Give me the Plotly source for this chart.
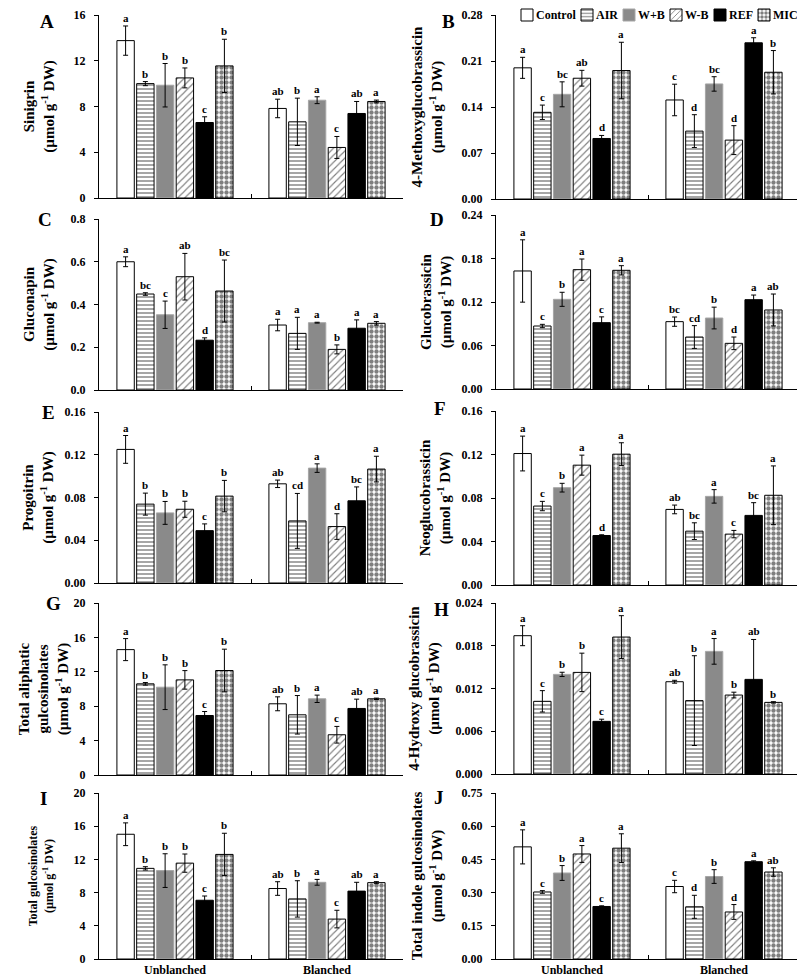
import plotly.graph_objects as go

W, H = 805, 977
FONT = "Liberation Serif"

groups = ["Unblanched", "Blanched"]
treatments = ["Control", "AIR", "W+B", "W-B", "REF", "MIC"]

# ---- A: Sinigrin
a_unb = [13.76, 10.0, 9.86, 10.5, 6.6, 11.55]
a_unb_err = [1.28, 0.18, 1.9, 0.87, 0.5, 2.33]
a_bla = [7.83, 6.66, 8.55, 4.42, 7.39, 8.44]
a_bla_err = [0.81, 2.07, 0.3, 0.96, 1.05, 0.12]
a_unb_let = ["a", "b", "b", "b", "c", "b"]
a_bla_let = ["ab", "b", "a", "c", "ab", "a"]

# ---- B: 4-Methoxyglucobrassicin
b_unb = [0.1996, 0.1319, 0.1593, 0.1838, 0.0921, 0.1955]
b_unb_err = [0.016, 0.011, 0.019, 0.012, 0.0046, 0.043]
b_bla = [0.1507, 0.1033, 0.1751, 0.0896, 0.2377, 0.1929]
b_bla_err = [0.024, 0.025, 0.011, 0.022, 0.0077, 0.033]
b_unb_let = ["a", "c", "bc", "ab", "d", "a"]
b_bla_let = ["c", "d", "bc", "d", "a", "b"]

# ---- C: Gluconapin
c_unb = [0.600, 0.449, 0.352, 0.530, 0.233, 0.463]
c_unb_err = [0.023, 0.006, 0.064, 0.109, 0.011, 0.145]
c_bla = [0.304, 0.265, 0.315, 0.190, 0.289, 0.312]
c_bla_err = [0.027, 0.075, 0.002, 0.021, 0.039, 0.008]
c_unb_let = ["a", "bc", "c", "ab", "d", "bc"]
c_bla_let = ["a", "a", "a", "b", "a", "a"]

# ---- D: Glucobrassicin
d_unb = [0.1628, 0.0869, 0.1237, 0.1646, 0.0915, 0.1637]
d_unb_err = [0.043, 0.0023, 0.0097, 0.0147, 0.008, 0.0064]
d_bla = [0.0929, 0.0717, 0.0979, 0.0630, 0.1232, 0.1090]
d_bla_err = [0.0064, 0.0157, 0.015, 0.0087, 0.0064, 0.022]
d_unb_let = ["a", "c", "b", "a", "c", "a"]
d_bla_let = ["bc", "cd", "b", "d", "a", "ab"]

# ---- E: Progoitrin
e_unb = [0.125, 0.0738, 0.0656, 0.069, 0.049, 0.0813]
e_unb_err = [0.013, 0.0103, 0.0107, 0.0075, 0.0063, 0.0147]
e_bla = [0.0928, 0.0581, 0.1075, 0.0528, 0.0769, 0.1066]
e_bla_err = [0.0035, 0.0257, 0.004, 0.012, 0.013, 0.012]
e_unb_let = ["a", "b", "b", "b", "c", "b"]
e_bla_let = ["ab", "cd", "a", "d", "bc", "a"]

# ---- F: Neoglucobrassicin
f_unb = [0.1209, 0.0726, 0.0895, 0.1102, 0.0455, 0.1203]
f_unb_err = [0.016, 0.0043, 0.004, 0.0092, 0.0007, 0.0105]
f_bla = [0.0695, 0.0495, 0.0815, 0.0468, 0.064, 0.0825]
f_bla_err = [0.004, 0.0077, 0.0062, 0.0034, 0.0117, 0.027]
f_unb_let = ["a", "c", "b", "a", "d", "a"]
f_bla_let = ["ab", "bc", "a", "c", "bc", "a"]

# ---- G: Total aliphatic gulcosinolates
g_unb = [14.58, 10.6, 10.21, 11.06, 6.92, 12.15]
g_unb_err = [1.28, 0.15, 2.6, 1.08, 0.46, 2.48]
g_bla = [8.28, 7.0, 8.86, 4.68, 7.74, 8.86]
g_bla_err = [0.81, 2.24, 0.43, 0.97, 1.08, 0.08]
g_unb_let = ["a", "b", "b", "b", "c", "b"]
g_bla_let = ["ab", "b", "a", "c", "ab", "a"]

# ---- H: 4-Hydroxy glucobrassicin
h_unb = [0.01941, 0.0102, 0.01398, 0.01426, 0.00739, 0.01922]
h_unb_err = [0.0014, 0.0015, 0.0003, 0.0027, 0.0003, 0.003]
h_bla = [0.01295, 0.0103, 0.01721, 0.01108, 0.01328, 0.01005]
h_bla_err = [0.0002, 0.0063, 0.0018, 0.0004, 0.0056, 0.0001]
h_unb_let = ["a", "c", "b", "b", "c", "a"]
h_bla_let = ["ab", "b", "a", "b", "ab", "b"]

# ---- I: Total gulcosinolates
i_unb = [15.03, 10.92, 10.65, 11.55, 7.08, 12.6]
i_unb_err = [1.37, 0.2, 2.03, 1.1, 0.51, 2.55]
i_bla = [8.49, 7.24, 9.24, 4.81, 8.18, 9.2]
i_bla_err = [0.82, 2.19, 0.35, 1.06, 1.06, 0.12]
i_unb_let = ["a", "b", "b", "b", "c", "b"]
i_bla_let = ["ab", "b", "a", "c", "ab", "a"]

# ---- J: Total indole gulcosinolates
j_unb = [0.5066, 0.3028, 0.3886, 0.4745, 0.2373, 0.5007]
j_unb_err = [0.077, 0.006, 0.0335, 0.038, 0.003, 0.065]
j_bla = [0.3275, 0.2358, 0.3726, 0.2125, 0.4396, 0.393]
j_bla_err = [0.028, 0.052, 0.031, 0.0335, 0.004, 0.019]
j_unb_let = ["a", "c", "b", "a", "c", "a"]
j_bla_let = ["c", "d", "b", "d", "a", "ab"]

UNIT = "(µmol g<sup>-1</sup> DW)"
panels = [
    dict(lab="A", title="Sinigrin<br>" + UNIT, unb=a_unb, ue=a_unb_err, bla=a_bla, be=a_bla_err,
         ul=a_unb_let, bl=a_bla_let, ymax=16, dtick=4, fmt="d", col=0, top=7, bot=190,
         lx=39, ly=13, tfs=15, so=15),
    dict(lab="B", title="4-Methoxyglucobrassicin<br>" + UNIT, unb=b_unb, ue=b_unb_err, bla=b_bla, be=b_bla_err,
         ul=b_unb_let, bl=b_bla_let, ymax=0.28, dtick=0.07, fmt=".2f", col=1, top=7, bot=191,
         lx=440, ly=13, tfs=15, so=15),
    dict(lab="C", title="Gluconapin<br>" + UNIT, unb=c_unb, ue=c_unb_err, bla=c_bla, be=c_bla_err,
         ul=c_unb_let, bl=c_bla_let, ymax=0.8, dtick=0.2, fmt=".1f", col=0, top=211, bot=382,
         lx=37, ly=212, tfs=15, so=12),
    dict(lab="D", title="Glucobrassicin<br>" + UNIT, unb=d_unb, ue=d_unb_err, bla=d_bla, be=d_bla_err,
         ul=d_unb_let, bl=d_bla_let, ymax=0.24, dtick=0.06, fmt=".2f", col=1, top=207, bot=381,
         lx=429, ly=212, tfs=15, so=6),
    dict(lab="E", title="Progoitrin<br>" + UNIT, unb=e_unb, ue=e_unb_err, bla=e_bla, be=e_bla_err,
         ul=e_unb_let, bl=e_bla_let, ymax=0.16, dtick=0.04, fmt=".2f", col=0, top=404, bot=575,
         lx=40, ly=404, tfs=15, so=7),
    dict(lab="F", title="Neoglucobrassicin<br>" + UNIT, unb=f_unb, ue=f_unb_err, bla=f_bla, be=f_bla_err,
         ul=f_unb_let, bl=f_bla_let, ymax=0.16, dtick=0.04, fmt=".2f", col=1, top=403, bot=577,
         lx=432, ly=401, tfs=15, so=7),
    dict(lab="G", title="Total aliphatic<br>gulcosinolates<br>" + UNIT, unb=g_unb, ue=g_unb_err, bla=g_bla,
         be=g_bla_err, ul=g_unb_let, bl=g_bla_let, ymax=20, dtick=4, fmt="d", col=0, top=595, bot=767,
         lx=45, ly=595, tfs=15, so=1),
    dict(lab="H", title="4-Hydroxy glucobrassicin<br>" + UNIT, unb=h_unb, ue=h_unb_err, bla=h_bla, be=h_bla_err,
         ul=h_unb_let, bl=h_bla_let, ymax=0.024, dtick=0.006, fmt=".3f", col=1, top=595, bot=766,
         lx=433, ly=601, tfs=15, so=12),
    dict(lab="I", title="Total gulcosinolates<br>" + UNIT, unb=i_unb, ue=i_unb_err, bla=i_bla, be=i_bla_err,
         ul=i_unb_let, bl=i_bla_let, ymax=20, dtick=4, fmt="d", col=0, top=785, bot=951,
         lx=35, ly=790, tfs=12, so=17),
    dict(lab="J", title="Total indole gulcosinolates<br>" + UNIT, unb=j_unb, ue=j_unb_err, bla=j_bla,
         be=j_bla_err, ul=j_unb_let, bl=j_bla_let, ymax=0.75, dtick=0.15, fmt=".2f", col=1, top=785, bot=951,
         lx=431, ly=789, tfs=15, so=15),
]

XDOM = [(91, 395), (488, 792)]
# legend swatch centres (px) along the top edge of panel B
LEG_X = [519, 579, 621, 668, 712, 756]
LEG_Y = 7
LEG_SYM_OFF = 20   # distance from a legend's left edge to its swatch centre

styles = {
    "Control": dict(color="white", line=dict(color="black", width=1)),
    "AIR": dict(color="white", line=dict(color="black", width=1),
                pattern=dict(shape="-", fgcolor="black", bgcolor="white", size=4, solidity=0.35)),
    "W+B": dict(color="#8a8a8a", line=dict(color="#a6a6a6", width=1)),
    "W-B": dict(color="white", line=dict(color="black", width=1),
                pattern=dict(shape="/", fgcolor="black", bgcolor="white", size=5, solidity=0.22)),
    "REF": dict(color="black", line=dict(color="black", width=1)),
    "MIC": dict(color="white", line=dict(color="black", width=1),
                pattern=dict(shape=".", fgcolor="black", bgcolor="white", size=5, solidity=0.6)),
}

BARGAP = 0.22
BARGROUPGAP = 0.12
n_tr = len(treatments)
slot = (1 - BARGAP) / n_tr


def bold(size):
    return dict(family=FONT, size=size, color="black", weight="bold")


fig = go.Figure()
layout = dict(
    width=W, height=H, margin=dict(l=0, r=0, t=0, b=0, autoexpand=False),
    paper_bgcolor="white", plot_bgcolor="white",
    barmode="group", bargap=BARGAP, bargroupgap=BARGROUPGAP,
    font=bold(12),
    showlegend=True,
)
annotations = []

# one small legend per treatment so the swatches sit where the reference puts them
leg_names = ["legend"] + [f"legend{j}" for j in range(2, n_tr + 1)]
for j, t in enumerate(treatments):
    layout[leg_names[j]] = dict(
        orientation="h", x=(LEG_X[j] - LEG_SYM_OFF) / W, xanchor="left",
        y=1 - LEG_Y / H, yanchor="middle", font=bold(12),
        bgcolor="rgba(0,0,0,0)", borderwidth=0)
    annotations.append(dict(
        x=(LEG_X[j] + 7) / W, y=1 - LEG_Y / H, xref="paper", yref="paper", text=t,
        showarrow=False, xanchor="left", yanchor="middle", font=bold(12)))

for k, p in enumerate(panels):
    n = k + 1
    xs = "x" if n == 1 else f"x{n}"
    ys = "y" if n == 1 else f"y{n}"
    for i, t in enumerate(treatments):
        fig.add_trace(go.Bar(
            x=groups, y=[p["unb"][i], p["bla"][i]],
            name="" if k == 0 else t, legend=leg_names[i], legendgroup=t, showlegend=(k == 0),
            marker=styles[t],
            error_y=dict(type="data", array=[p["ue"][i], p["be"][i]], color="black",
                         thickness=1, width=2.5),
            xaxis=xs, yaxis=ys, hoverinfo="skip",
        ))
        off = -(1 - BARGAP) / 2 + slot * (i + 0.5)
        for gi, (vals, errs, lets) in enumerate([(p["unb"], p["ue"], p["ul"]), (p["bla"], p["be"], p["bl"])]):
            annotations.append(dict(
                x=gi + off, y=vals[i] + errs[i], xref=xs, yref=ys, text=lets[i],
                showarrow=False, yanchor="bottom", yshift=0, font=bold(11)))
    x0, x1 = XDOM[p["col"]]
    bottom_row = k >= 8
    layout["xaxis" + ("" if n == 1 else str(n))] = dict(
        domain=[x0 / W, x1 / W], anchor=ys, type="category",
        categoryorder="array", categoryarray=groups, range=[-0.5, 1.5],
        showline=True, linecolor="black", linewidth=1,
        ticks="inside", tickson="boundaries", ticklen=4, tickcolor="black",
        showgrid=False, showticklabels=bottom_row, tickfont=bold(12), fixedrange=True,
    )
    layout["yaxis" + ("" if n == 1 else str(n))] = dict(
        domain=[1 - p["bot"] / H, 1 - p["top"] / H], anchor=xs,
        range=[0, p["ymax"]], tick0=0, dtick=p["dtick"], tickformat=p["fmt"],
        showline=True, linecolor="black", linewidth=1,
        ticks="outside", ticklen=4, tickcolor="black", ticklabelstandoff=6,
        showgrid=False, zeroline=False, tickfont=bold(12), fixedrange=True,
        title=dict(text=p["title"], font=bold(p["tfs"]), standoff=p["so"]),
    )
    annotations.append(dict(
        x=p["lx"] / W, y=1 - p["ly"] / H, xref="paper", yref="paper", text=p["lab"],
        showarrow=False, xanchor="center", yanchor="middle", font=bold(19)))

layout["annotations"] = annotations
fig.update_layout(**layout)
fig.write_html("out.html")
